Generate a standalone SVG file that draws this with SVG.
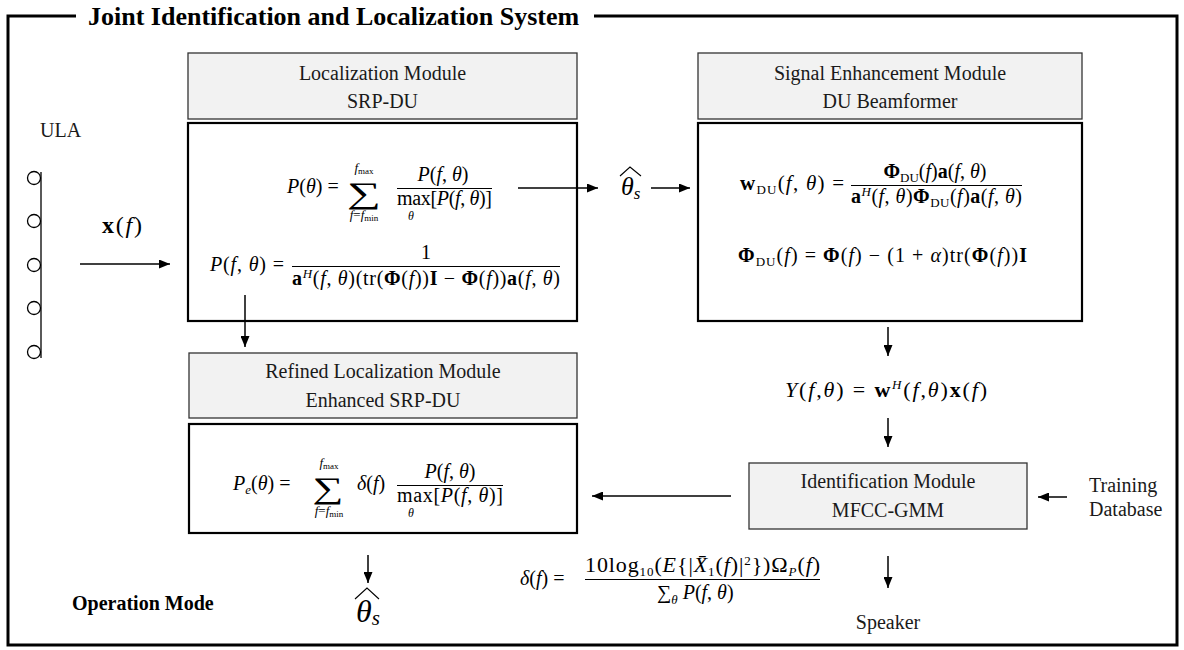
<svg xmlns="http://www.w3.org/2000/svg" width="1184" height="650" viewBox="0 0 1184 650">
  <defs>
    <marker id="ah" viewBox="0 0 11 9" refX="11" refY="4.5" markerWidth="11" markerHeight="9" markerUnits="userSpaceOnUse" orient="auto">
      <path d="M0,0 L11,4.5 L0,9 z" fill="#000"/>
    </marker>
    <style>
      .m{font-family:"Liberation Serif","DejaVu Serif",serif;font-size:20px;fill:#000}
      .i{font-style:italic}
      .b{font-weight:bold}
      .s{font-size:13px}
      .ss{font-size:9px}
      .sum{font-size:30px}
      .lim{font-size:12px}
      .lbl{font-family:"Liberation Serif","DejaVu Serif",serif;font-size:20px;fill:#1a1a1a}
      .bold{font-family:"Liberation Serif","DejaVu Serif",serif;font-weight:bold;fill:#000}
      .hdr{fill:#f2f2f2;stroke:#333;stroke-width:1.3}
      .box{fill:#fff;stroke:#000;stroke-width:2.2}
      .bar{stroke:#000;stroke-width:1}
      .conn{stroke:#000;stroke-width:1.5;fill:none;marker-end:url(#ah)}
      .frame{fill:none;stroke:#000;stroke-width:3}
      .hat{fill:none;stroke:#000;stroke-width:1.1}
    </style>
  </defs>

  <rect width="1184" height="650" fill="#fff"/>

  <!-- system frame with title -->
  <g id="system-frame">
    <path class="frame" d="M76,16 H8 V645 H1177 V16 H594"/>
    <text class="bold" x="88" y="25" style="font-size:26px">Joint Identification and Localization System</text>
  </g>

  <!-- microphone array -->
  <g id="ula">
    <text class="lbl" x="40" y="137">ULA</text>
    <line x1="41" y1="172" x2="41" y2="358" stroke="#000" stroke-width="1.3"/>
    <g fill="#fff" stroke="#000" stroke-width="1.3">
      <circle cx="34" cy="178" r="6.5"/>
      <circle cx="34" cy="221" r="6.5"/>
      <circle cx="34" cy="265" r="6.5"/>
      <circle cx="34" cy="308" r="6.5"/>
      <circle cx="34" cy="352" r="6.5"/>
    </g>
    <text class="m" x="102" y="233" style="font-size:24px" textLength="40"><tspan class="b">x</tspan>(<tspan class="i">f</tspan>)</text>
  </g>

  <!-- localization module -->
  <g id="localization-header">
    <rect class="hdr" x="188" y="53" width="389" height="66"/>
    <text class="lbl" x="382.5" y="80" text-anchor="middle">Localization Module</text>
    <text class="lbl" x="382.5" y="108" text-anchor="middle">SRP-DU</text>
  </g>
  <g id="localization-body">
    <rect class="box" x="188" y="123" width="389" height="198"/>
    <text class="m" x="287" y="193"><tspan class="i">P</tspan>(<tspan class="i">θ</tspan>) =</text>
    <text class="m sum" x="364" y="203" text-anchor="middle" textLength="34" lengthAdjust="spacingAndGlyphs">∑</text>
    <text class="m s" x="364" y="172" text-anchor="middle"><tspan class="i">f</tspan><tspan class="ss" dy="2">max</tspan></text>
    <text class="m s" x="364" y="219" text-anchor="middle"><tspan class="i">f</tspan>=<tspan class="i">f</tspan><tspan class="ss" dy="2">min</tspan></text>
    <text class="m" x="443" y="181" text-anchor="middle"><tspan class="i">P</tspan>(<tspan class="i">f</tspan>, <tspan class="i">θ</tspan>)</text>
    <line class="bar" x1="397" y1="188.5" x2="492" y2="188.5"/>
    <text class="m" x="397" y="205" textLength="95">max[<tspan class="i">P</tspan>(<tspan class="i">f</tspan>, <tspan class="i">θ</tspan>)]</text>
    <text class="m i lim" x="411" y="220" text-anchor="middle">θ</text>

    <text class="m" x="210" y="271" textLength="74"><tspan class="i">P</tspan>(<tspan class="i">f</tspan>, <tspan class="i">θ</tspan>) =</text>
    <text class="m" x="426" y="259" text-anchor="middle">1</text>
    <line class="bar" x1="292" y1="266.5" x2="560" y2="266.5"/>
    <text class="m" x="292" y="285" textLength="268"><tspan class="b">a</tspan><tspan class="i s" dy="-7">H</tspan><tspan dy="7">(</tspan><tspan class="i">f</tspan>, <tspan class="i">θ</tspan>)(tr(<tspan class="b">Φ</tspan>(<tspan class="i">f</tspan>))<tspan class="b">I</tspan> − <tspan class="b">Φ</tspan>(<tspan class="i">f</tspan>))<tspan class="b">a</tspan>(<tspan class="i">f</tspan>, <tspan class="i">θ</tspan>)</text>
  </g>

  <!-- estimated direction between the modules -->
  <g id="theta-estimate">
    <text class="m i" x="621" y="195" style="font-size:26px">θ<tspan style="font-size:17px" dy="4">s</tspan></text>
    <polyline class="hat" points="620,176 630,167 641,176"/>
  </g>

  <!-- signal enhancement module -->
  <g id="enhancement-header">
    <rect class="hdr" x="698" y="53" width="384" height="66"/>
    <text class="lbl" x="890" y="80" text-anchor="middle">Signal Enhancement Module</text>
    <text class="lbl" x="890" y="108" text-anchor="middle">DU Beamformer</text>
  </g>
  <g id="enhancement-body">
    <rect class="box" x="698" y="123" width="384" height="198"/>
    <text class="m" x="740" y="190" style="font-size:21px" textLength="104"><tspan class="b">w</tspan><tspan class="s" dy="4">DU</tspan><tspan dy="-4">(</tspan><tspan class="i">f</tspan>, <tspan class="i">θ</tspan>) =</text>
    <text class="m" x="935" y="178" text-anchor="middle"><tspan class="b">Φ</tspan><tspan class="s" dy="4">DU</tspan><tspan dy="-4">(</tspan><tspan class="i">f</tspan>)<tspan class="b">a</tspan>(<tspan class="i">f</tspan>, <tspan class="i">θ</tspan>)</text>
    <line class="bar" x1="851" y1="185.5" x2="1022" y2="185.5"/>
    <text class="m" x="851" y="203" textLength="171"><tspan class="b">a</tspan><tspan class="i s" dy="-7">H</tspan><tspan dy="7">(</tspan><tspan class="i">f</tspan>, <tspan class="i">θ</tspan>)<tspan class="b">Φ</tspan><tspan class="s" dy="4">DU</tspan><tspan dy="-4">(</tspan><tspan class="i">f</tspan>)<tspan class="b">a</tspan>(<tspan class="i">f</tspan>, <tspan class="i">θ</tspan>)</text>

    <text class="m" x="738" y="262" textLength="289"><tspan class="b">Φ</tspan><tspan class="s" dy="4">DU</tspan><tspan dy="-4">(</tspan><tspan class="i">f</tspan>) = <tspan class="b">Φ</tspan>(<tspan class="i">f</tspan>) − (1 + <tspan class="i">α</tspan>)tr(<tspan class="b">Φ</tspan>(<tspan class="i">f</tspan>))<tspan class="b">I</tspan></text>
  </g>

  <!-- beamformer output -->
  <g id="beamformer-output">
    <text class="m" x="785" y="397" style="font-size:22px" textLength="202"><tspan class="i">Y</tspan>(<tspan class="i">f</tspan>,<tspan class="i">θ</tspan>) = <tspan class="b">w</tspan><tspan class="i s" dy="-8">H</tspan><tspan dy="8">(</tspan><tspan class="i">f</tspan>,<tspan class="i">θ</tspan>)<tspan class="b">x</tspan>(<tspan class="i">f</tspan>)</text>
  </g>

  <!-- identification module -->
  <g id="identification">
    <rect class="hdr" x="749" y="463" width="278" height="66"/>
    <text class="lbl" x="888" y="488" text-anchor="middle">Identification Module</text>
    <text class="lbl" x="888" y="517" text-anchor="middle">MFCC-GMM</text>
  </g>

  <g id="training-database">
    <text class="lbl" x="1089" y="492">Training</text>
    <text class="lbl" x="1089" y="516">Database</text>
  </g>

  <g id="speaker">
    <text class="lbl" x="888" y="629" text-anchor="middle">Speaker</text>
  </g>

  <!-- frequency weighting -->
  <g id="weighting">
    <text class="m" x="520" y="585"><tspan class="i">δ</tspan>(<tspan class="i">f</tspan>) =</text>
    <text class="m" x="585" y="572" style="font-size:22px" textLength="235">10log<tspan class="s" dy="4">10</tspan><tspan dy="-4">(</tspan><tspan class="i">E</tspan>{|<tspan class="i">X̄</tspan><tspan class="s" dy="4">1</tspan><tspan dy="-4">(</tspan><tspan class="i">f</tspan>)|<tspan class="s" dy="-7">2</tspan><tspan dy="7">})Ω</tspan><tspan class="i s" dy="4">P</tspan><tspan dy="-4">(</tspan><tspan class="i">f</tspan>)</text>
    <line class="bar" x1="585" y1="579.5" x2="820" y2="579.5"/>
    <text class="m" x="657" y="599">∑<tspan class="i s" dy="5">θ</tspan><tspan dy="-5"> </tspan><tspan class="i">P</tspan>(<tspan class="i">f</tspan>, <tspan class="i">θ</tspan>)</text>
  </g>

  <!-- refined localization module -->
  <g id="refined-header">
    <rect class="hdr" x="189" y="353" width="388" height="65"/>
    <text class="lbl" x="383" y="378" text-anchor="middle">Refined Localization Module</text>
    <text class="lbl" x="383" y="407" text-anchor="middle">Enhanced SRP-DU</text>
  </g>
  <g id="refined-body">
    <rect class="box" x="189" y="424" width="388" height="109"/>
    <text class="m" x="233" y="490"><tspan class="i">P</tspan><tspan class="i s" dy="4">e</tspan><tspan dy="-4">(</tspan><tspan class="i">θ</tspan>) =</text>
    <text class="m sum" x="328" y="498" text-anchor="middle" textLength="31" lengthAdjust="spacingAndGlyphs">∑</text>
    <text class="m s" x="329" y="467" text-anchor="middle"><tspan class="i">f</tspan><tspan class="ss" dy="2">max</tspan></text>
    <text class="m s" x="329" y="515" text-anchor="middle"><tspan class="i">f</tspan>=<tspan class="i">f</tspan><tspan class="ss" dy="2">min</tspan></text>
    <text class="m" x="357" y="490"><tspan class="i">δ</tspan>(<tspan class="i">f</tspan>)</text>
    <text class="m" x="450" y="478" text-anchor="middle"><tspan class="i">P</tspan>(<tspan class="i">f</tspan>, <tspan class="i">θ</tspan>)</text>
    <line class="bar" x1="397" y1="485.5" x2="503" y2="485.5"/>
    <text class="m" x="397" y="502" textLength="106">max[<tspan class="i">P</tspan>(<tspan class="i">f</tspan>, <tspan class="i">θ</tspan>)]</text>
    <text class="m i lim" x="411" y="517" text-anchor="middle">θ</text>
  </g>

  <!-- final estimate -->
  <g id="final-estimate">
    <text class="m i" x="356" y="622" style="font-size:32px">θ<tspan style="font-size:21px" dy="3">s</tspan></text>
    <polyline class="hat" points="355,599 367,588 379,599"/>
  </g>

  <g id="operation-mode">
    <text class="bold" x="72" y="610" style="font-size:20px">Operation Mode</text>
  </g>

  <!-- connectors -->
  <g id="connectors">
    <line class="conn" x1="80" y1="264" x2="170" y2="264"/>
    <line class="conn" x1="518" y1="188" x2="598" y2="188"/>
    <line class="conn" x1="651" y1="188" x2="690" y2="188"/>
    <line class="conn" x1="245" y1="295" x2="245" y2="347"/>
    <line class="conn" x1="888" y1="327" x2="888" y2="356"/>
    <line class="conn" x1="888" y1="418" x2="888" y2="447"/>
    <line class="conn" x1="731" y1="496" x2="592" y2="496"/>
    <line class="conn" x1="1067" y1="497" x2="1038" y2="497"/>
    <line class="conn" x1="888" y1="556" x2="888" y2="588"/>
    <line class="conn" x1="368" y1="555" x2="368" y2="583"/>
  </g>
</svg>
